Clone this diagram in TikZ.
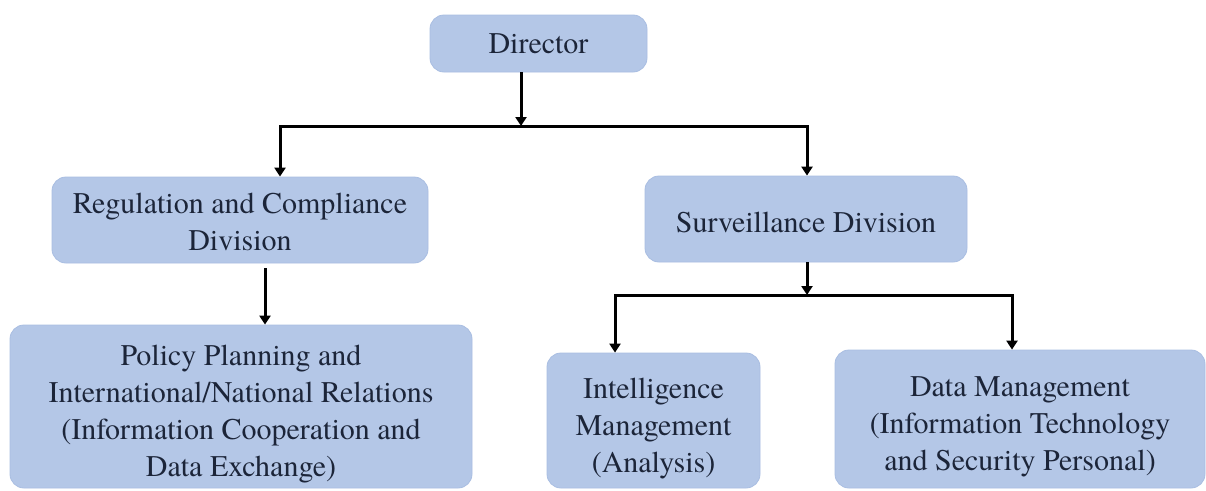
\documentclass[tikz,border=0pt]{standalone}
\usepackage{fontspec}
\setmainfont{TeX Gyre Termes}
\usetikzlibrary{arrows.meta}
\definecolor{boxfill}{HTML}{B4C7E7}
\definecolor{boxedge}{HTML}{A9BEE2}
\definecolor{txt}{HTML}{1C2539}
\tikzset{
  orgbox/.style={fill=boxfill, draw=boxedge, line width=0.8pt, rounded corners=14pt, inner sep=0pt},
  orgtext/.style={inner sep=0pt, align=center, text=txt, font=\fontsize{30}{37}\selectfont},
  conn/.style={line width=3pt, draw=black},
  arr/.style={conn, -{Triangle[length=9pt,width=11pt]}}
}
\begin{document}
\begin{tikzpicture}[x=1pt,y=-1pt]
\useasboundingbox[fill=white] (0,0) rectangle (1206,490);

% boxes
\node[orgbox, minimum width=217pt, minimum height=57pt] (director) at (538.5,43.5) {};
\node[orgbox, minimum width=376pt, minimum height=86pt] (reg) at (240,220) {};
\node[orgbox, minimum width=322pt, minimum height=86pt] (surv) at (806,219) {};
\node[orgbox, minimum width=462pt, minimum height=163pt] (policy) at (241,406.5) {};
\node[orgbox, minimum width=213pt, minimum height=135pt] (intel) at (653.5,420.5) {};
\node[orgbox, minimum width=370pt, minimum height=138pt] (data) at (1020,419) {};

% texts
\node[orgtext] (directortext) at (director.center) {Director};
\node[orgtext] (regtext) at ([yshift=-2pt]reg.center) {Regulation and Compliance\\Division};
\node[orgtext] (survtext) at ([yshift=-3pt]surv.center) {Surveillance Division};
\node[orgtext] (policytext) at ([yshift=-8pt]policy.center) {Policy Planning and\\International/National Relations\\(Information Cooperation and\\Data Exchange)};
\node[orgtext] (inteltext) at ([yshift=-8pt]intel.center) {Intelligence\\Management\\(Analysis)};
\node[orgtext] (datatext) at ([yshift=-8pt]data.center) {Data Management\\(Information Technology\\and Security Personal)};

\coordinate (j1) at (521,126);
\coordinate (j1l) at (280,126);
\coordinate (j1r) at (807,126);
\coordinate (rp) at (265,300);
\coordinate (j2) at (807,295);
\coordinate (j2l) at (615,295);
\coordinate (j2r) at (1012,295);

% Director to first junction
\draw[arr] (director.south -| j1) -- (j1);
\draw[arr] (j1) -| (reg.north -| j1l);
\draw[arr] (j1) -| (surv.north -| j1r);

% Regulation to Policy
\draw[arr] ([yshift=-5pt]reg.south -| rp) -- (policy.north -| rp);

% Surveillance to second junction
\draw[arr] (surv.south -| j2) -- (j2);
\draw[arr] (j2) -| (intel.north -| j2l);
\draw[arr] (j2) -| (data.north -| j2r);
\end{tikzpicture}
\end{document}
